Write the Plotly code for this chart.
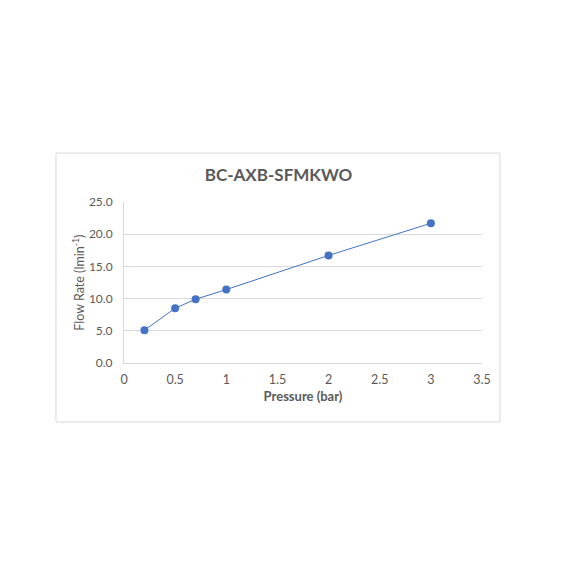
import plotly.graph_objects as go

pressure = [0.2, 0.5, 0.7, 1.0, 2.0, 3.0]
flow_rate = [5.1, 8.5, 9.9, 11.4, 16.7, 21.7]

x_ticks = [0, 0.5, 1, 1.5, 2, 2.5, 3, 3.5]
x_tick_labels = ["0", "0.5", "1", "1.5", "2", "2.5", "3", "3.5"]
y_ticks = [0, 5, 10, 15, 20, 25]

TEXT = "#595959"
GRID = "#d9d9d9"
FONT = "Lato, Open Sans, sans-serif"

fig = go.Figure()
fig.add_trace(
    go.Scatter(
        x=pressure,
        y=flow_rate,
        mode="lines+markers",
        line={"color": "#4472C4", "width": 1},
        marker={"color": "#4472C4", "size": 8},
        showlegend=False,
    )
)

# outer chart border (Excel chart area)
fig.add_shape(
    type="rect",
    xref="paper",
    yref="paper",
    x0=-0.19,
    x1=1.05,
    y0=-0.366,
    y1=1.304,
    line={"color": GRID, "width": 1},
    fillcolor="rgba(0,0,0,0)",
    layer="below",
)

# y-axis title placed by hand so it sits close to the tick labels
fig.add_annotation(
    text="Flow Rate (lmin<sup>-1</sup>)",
    xref="paper",
    yref="paper",
    x=-0.128,
    y=0.5,
    xanchor="center",
    yanchor="middle",
    textangle=-90,
    showarrow=False,
    font={"size": 12.5, "color": TEXT, "family": FONT},
)

fig.update_layout(
    width=572,
    height=572,
    paper_bgcolor="white",
    plot_bgcolor="white",
    margin={"l": 116, "r": 98, "t": 194, "b": 217},
    font={"family": FONT, "color": TEXT, "size": 12},
    title={
        "text": "<b>BC-AXB-SFMKWO</b>",
        "x": 0.473,
        "xanchor": "center",
        "y": 1 - 167 / 572,
        "yanchor": "middle",
        "font": {"size": 17, "color": TEXT, "family": FONT},
    },
    xaxis={
        "range": [0, 3.5],
        "tickvals": x_ticks,
        "ticktext": x_tick_labels,
        "showgrid": False,
        "zeroline": False,
        "showline": True,
        "linecolor": GRID,
        "ticks": "outside",
        "tickcolor": "rgba(0,0,0,0)",
        "ticklen": 5,
        "tickfont": {"size": 12.5},
        "title": {"text": "<b>Pressure (bar)</b>", "font": {"size": 13, "color": TEXT}, "standoff": 5},
    },
    yaxis={
        "range": [0, 25],
        "tickvals": y_ticks,
        "tickformat": ".1f",
        "showgrid": True,
        "gridcolor": GRID,
        "zeroline": False,
        "showline": True,
        "linecolor": GRID,
        "ticks": "outside",
        "tickcolor": "rgba(0,0,0,0)",
        "ticklen": 8,
        "tickfont": {"size": 12},
    },
)

fig.write_html("out.html")
